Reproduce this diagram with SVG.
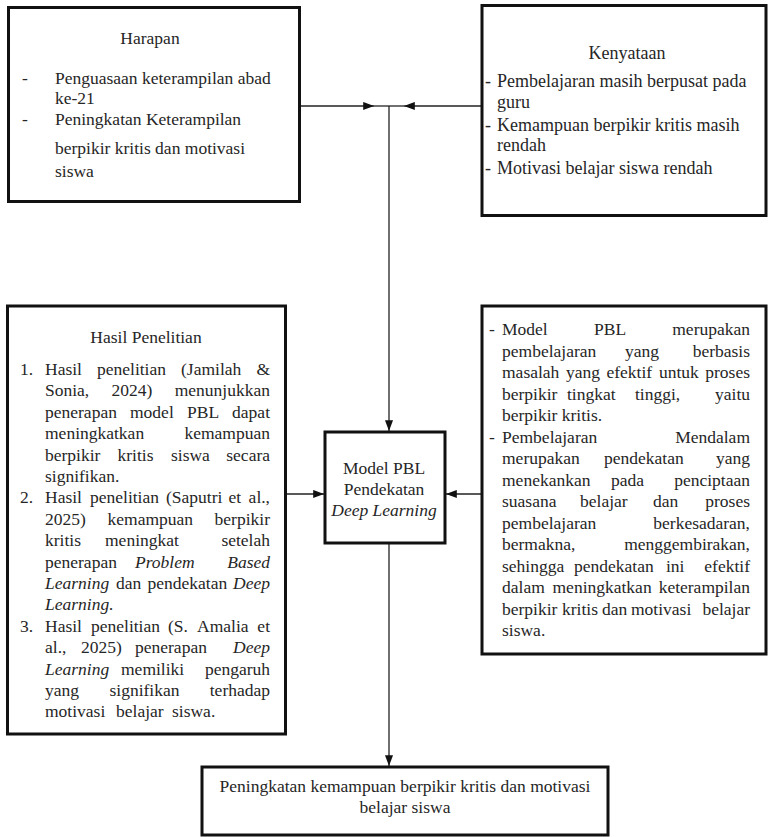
<svg xmlns="http://www.w3.org/2000/svg" width="770" height="837" viewBox="0 0 770 837">
<style>
.box{fill:#fff;stroke:#111;stroke-width:3}
.t{font-family:"Liberation Serif","Times New Roman",serif;font-size:17.5px;fill:#262626}
.k{font-size:18px}
.i{font-style:italic}
.c{text-anchor:middle}
.e{text-anchor:end}
.ln{stroke:#222;stroke-width:1.3;fill:none}
</style>
<defs>
<marker id="arr" viewBox="0 0 12 10" refX="12" refY="5" markerWidth="12" markerHeight="9" markerUnits="userSpaceOnUse" orient="auto">
<path d="M0,0.5 L12,5 L0,9.5 z" fill="#111"/>
</marker>
</defs>
<rect width="770" height="837" fill="#fff"/>

<g id="connectors">
<path class="ln" d="M300,106 H374" marker-end="url(#arr)"/>
<path class="ln" d="M374,106 H389"/>
<path class="ln" d="M482,106 H404" marker-end="url(#arr)"/>
<path class="ln" d="M404,106 H389"/>
<path class="ln" d="M389,106 V431" marker-end="url(#arr)"/>
<path class="ln" d="M285,494 H324" marker-end="url(#arr)"/>
<path class="ln" d="M482,494 H446" marker-end="url(#arr)"/>
<path class="ln" d="M389,543 V766" marker-end="url(#arr)"/>
</g>

<g id="harapan">
<rect class="box" x="8.5" y="7.5" width="291" height="194"/>
<text class="t c" x="150" y="44">Harapan</text>
<text class="t" x="22" y="84">-</text>
<text class="t" x="55" y="84">Penguasaan keterampilan abad</text>
<text class="t" x="55" y="104">ke-21</text>
<text class="t" x="22" y="125">-</text>
<text class="t" x="55" y="125">Peningkatan Keterampilan</text>
<text class="t" x="55" y="154">berpikir kritis dan motivasi</text>
<text class="t" x="55" y="177">siswa</text>
</g>

<g id="kenyataan">
<rect class="box" x="482" y="5.5" width="284" height="210"/>
<text class="t k c" x="627" y="59">Kenyataan</text>
<text class="t k" x="485" y="87">-</text>
<text class="t k" x="497" y="87">Pembelajaran masih berpusat pada</text>
<text class="t k" x="497" y="107.5">guru</text>
<text class="t k" x="485" y="130.5">-</text>
<text class="t k" x="497" y="130.5">Kemampuan berpikir kritis  masih</text>
<text class="t k" x="497" y="151">rendah</text>
<text class="t k" x="485" y="174">-</text>
<text class="t k" x="497" y="174">Motivasi belajar siswa rendah</text>
</g>

<g id="hasil-penelitian">
<rect class="box" x="7.5" y="306" width="278" height="428"/>
<text class="t c" x="146" y="343">Hasil Penelitian</text>
<text class="t" x="20" y="375">1.</text>
<text class="t" y="375"><tspan x="45">Hasil</tspan><tspan x="97">penelitian</tspan><tspan x="181">(Jamilah</tspan><tspan x="270" text-anchor="end">&amp;</tspan></text>
<text class="t" y="396.4"><tspan x="45">Sonia,</tspan><tspan x="111.6">2024)</tspan><tspan x="270" text-anchor="end">menunjukkan</tspan></text>
<text class="t" y="417.8"><tspan x="45">penerapan</tspan><tspan x="130">model</tspan><tspan x="187">PBL</tspan><tspan x="270" text-anchor="end">dapat</tspan></text>
<text class="t" y="439.2"><tspan x="45">meningkatkan</tspan><tspan x="270" text-anchor="end">kemampuan</tspan></text>
<text class="t" y="460.6"><tspan x="45">berpikir</tspan><tspan x="117.5">kritis</tspan><tspan x="171">siswa</tspan><tspan x="270" text-anchor="end">secara</tspan></text>
<text class="t" x="45" y="482">signifikan.</text>
<text class="t" x="20" y="503.4">2.</text>
<text class="t" y="503.4"><tspan x="45">Hasil</tspan><tspan x="90">penelitian</tspan><tspan x="166">(Saputri</tspan><tspan x="228.5">et</tspan><tspan x="270" text-anchor="end">al.,</tspan></text>
<text class="t" y="524.8"><tspan x="45">2025)</tspan><tspan x="107.5">kemampuan</tspan><tspan x="270" text-anchor="end">berpikir</tspan></text>
<text class="t" y="546.2"><tspan x="45">kritis</tspan><tspan x="105">meningkat</tspan><tspan x="270" text-anchor="end">setelah</tspan></text>
<text class="t" y="567.6"><tspan x="45">penerapan</tspan><tspan x="135" class="i">Problem</tspan><tspan x="270" text-anchor="end" class="i">Based</tspan></text>
<text class="t" y="589"><tspan x="45" class="i">Learning</tspan><tspan x="116">dan</tspan><tspan x="147.5">pendekatan</tspan><tspan x="270" text-anchor="end" class="i">Deep</tspan></text>
<text class="t i" x="45" y="610.4">Learning.</text>
<text class="t" x="20" y="631.8">3.</text>
<text class="t" y="631.8"><tspan x="45">Hasil</tspan><tspan x="91">penelitian</tspan><tspan x="168">(S.</tspan><tspan x="197">Amalia</tspan><tspan x="270" text-anchor="end">et</tspan></text>
<text class="t" y="653.2"><tspan x="45">al.,</tspan><tspan x="81">2025)</tspan><tspan x="135">penerapan</tspan><tspan x="270" text-anchor="end" class="i">Deep</tspan></text>
<text class="t" y="674.6"><tspan x="45" class="i">Learning</tspan><tspan x="121">memiliki</tspan><tspan x="270" text-anchor="end">pengaruh</tspan></text>
<text class="t" y="696"><tspan x="45">yang</tspan><tspan x="109.5">signifikan</tspan><tspan x="270" text-anchor="end">terhadap</tspan></text>
<text class="t" y="717.4"><tspan x="45">motivasi</tspan><tspan x="116">belajar</tspan><tspan x="172">siswa.</tspan></text>
</g>

<g id="model-pbl">
<rect class="box" x="325" y="432" width="120" height="111"/>
<text class="t c" x="384" y="474">Model PBL</text>
<text class="t c" x="384" y="495">Pendekatan</text>
<text class="t c i" x="384" y="516">Deep Learning</text>
</g>

<g id="teori">
<rect class="box" x="482" y="306" width="284" height="348"/>
<text class="t" x="489" y="335">-</text>
<text class="t" y="335"><tspan x="502">Model</tspan><tspan x="594">PBL</tspan><tspan x="750" text-anchor="end">merupakan</tspan></text>
<text class="t" y="356.5"><tspan x="502">pembelajaran</tspan><tspan x="625">yang</tspan><tspan x="750" text-anchor="end">berbasis</tspan></text>
<text class="t" y="378"><tspan x="502">masalah</tspan><tspan x="566">yang</tspan><tspan x="606.5">efektif</tspan><tspan x="659">untuk</tspan><tspan x="750" text-anchor="end">proses</tspan></text>
<text class="t" y="399.5"><tspan x="502">berpikir</tspan><tspan x="567">tingkat</tspan><tspan x="635">tinggi,</tspan><tspan x="750" text-anchor="end">yaitu</tspan></text>
<text class="t" x="502" y="421">berpikir kritis.</text>
<text class="t" x="489" y="442.5">-</text>
<text class="t" y="442.5"><tspan x="502">Pembelajaran</tspan><tspan x="750" text-anchor="end">Mendalam</tspan></text>
<text class="t" y="464"><tspan x="502">merupakan</tspan><tspan x="604">pendekatan</tspan><tspan x="750" text-anchor="end">yang</tspan></text>
<text class="t" y="485.5"><tspan x="502">menekankan</tspan><tspan x="611">pada</tspan><tspan x="750" text-anchor="end">penciptaan</tspan></text>
<text class="t" y="507"><tspan x="502">suasana</tspan><tspan x="580">belajar</tspan><tspan x="653">dan</tspan><tspan x="750" text-anchor="end">proses</tspan></text>
<text class="t" y="528.5"><tspan x="502">pembelajaran</tspan><tspan x="750" text-anchor="end">berkesadaran,</tspan></text>
<text class="t" y="550"><tspan x="502">bermakna,</tspan><tspan x="750" text-anchor="end">menggembirakan,</tspan></text>
<text class="t" y="571.5"><tspan x="502">sehingga</tspan><tspan x="574">pendekatan</tspan><tspan x="666">ini</tspan><tspan x="750" text-anchor="end">efektif</tspan></text>
<text class="t" y="593"><tspan x="502">dalam</tspan><tspan x="552.5">meningkatkan</tspan><tspan x="750" text-anchor="end">keterampilan</tspan></text>
<text class="t" y="614.5"><tspan x="502">berpikir</tspan><tspan x="562">kritis</tspan><tspan x="602">dan</tspan><tspan x="631">motivasi</tspan><tspan x="750" text-anchor="end">belajar</tspan></text>
<text class="t" x="502" y="636">siswa.</text>
</g>

<g id="hasil-akhir">
<rect class="box" x="202" y="767" width="406" height="68"/>
<text class="t c" x="405" y="792">Peningkatan kemampuan berpikir kritis dan motivasi</text>
<text class="t c" x="405" y="812.5">belajar siswa</text>
</g>
</svg>
